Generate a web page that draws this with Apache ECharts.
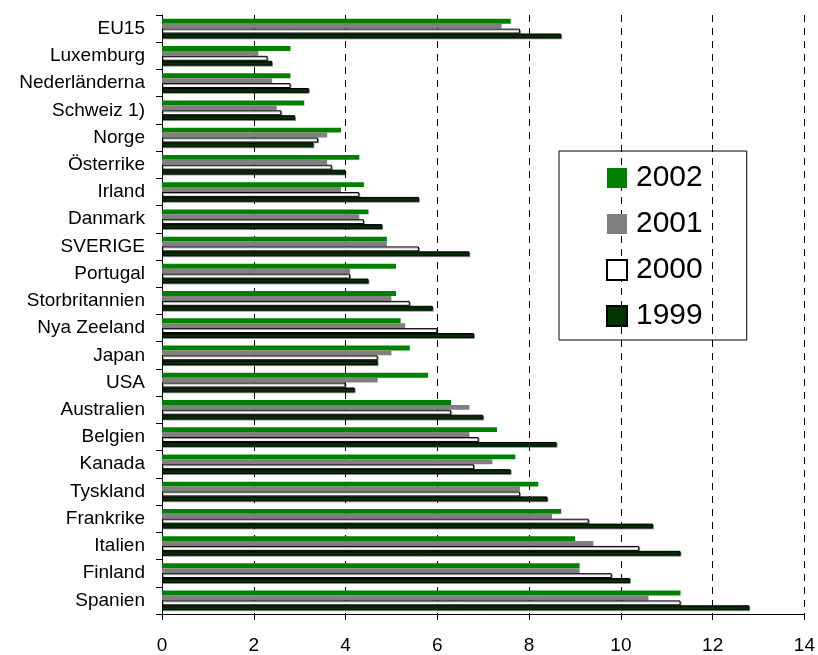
<!DOCTYPE html>
<html>
<head>
<meta charset="utf-8">
<script src="https://cdn.jsdelivr.net/npm/echarts@6/dist/echarts.min.js"></script>
<style>html,body{margin:0;padding:0;background:#fff;}#c{width:818px;height:655px;}</style>
</head>
<body>
<div id="c"></div>
<script>
const categories = ['EU15','Luxemburg','Nederländerna','Schweiz 1)','Norge','Österrike','Irland','Danmark','SVERIGE','Portugal','Storbritannien','Nya Zeeland','Japan','USA','Australien','Belgien','Kanada','Tyskland','Frankrike','Italien','Finland','Spanien'];
const v2002 = [7.6,2.8,2.8,3.1,3.9,4.3,4.4,4.5,4.9,5.1,5.1,5.2,5.4,5.8,6.3,7.3,7.7,8.2,8.7,9.0,9.1,11.3];
const v2001 = [7.4,2.1,2.4,2.5,3.6,3.6,3.9,4.3,4.9,4.1,5.0,5.3,5.0,4.7,6.7,6.7,7.2,7.8,8.5,9.4,9.1,10.6];
const v2000 = [7.8,2.3,2.8,2.6,3.4,3.7,4.3,4.4,5.6,4.1,5.4,6.0,4.7,4.0,6.3,6.9,6.8,7.8,9.3,10.4,9.8,11.3];
const v1999 = [8.7,2.4,3.2,2.9,3.3,4.0,5.6,4.8,6.7,4.5,5.9,6.8,4.7,4.2,7.0,8.6,7.6,8.4,10.7,11.3,10.2,12.8];
const xTicks = [0,2,4,6,8,10,12,14];

const font = 'Liberation Sans, Arial, sans-serif';
const chart = echarts.init(document.getElementById('c'));
function ser(name, data, color, border){
  return {
    name, type:'bar', data,
    barGap:'0%', barCategoryGap:'28%',
    itemStyle:{color, borderColor: border ? '#000' : color, borderWidth: border ? 1 : 0,
      shadowColor: border ? 'rgba(0,0,0,0.35)' : 'transparent', shadowOffsetX: border?1:0, shadowOffsetY: border?1:0},
    emphasis:{disabled:true}, animation:false
  };
}
chart.setOption({
  animation:false,
  grid:{left:162, right:12, top:15, bottom:40},
  legend:{
    orient:'vertical', left:559, top:151,
    data:['2002','2001','2000','1999'],
    itemWidth:20, itemHeight:20, itemGap:16,
    icon:'rect',
    padding:[12,44,9,47],
    borderColor:'#000', borderWidth:1,
    textStyle:{fontFamily:font, fontSize:30, color:'#000', lineHeight:30, padding:[0,0,0,4]}
  },
  xAxis:{
    type:'value', min:0, max:14, interval:2,
    axisLine:{show:true, lineStyle:{color:'#000'}},
    axisTick:{show:true, length:6, lineStyle:{color:'#000'}},
    axisLabel:{fontFamily:font, fontSize:19, color:'#000', margin:22,
      formatter:v=>xTicks.includes(v)?String(v):''},
    splitLine:{show:true, lineStyle:{color:'#000', type:[7,6], width:1}}
  },
  yAxis:{
    type:'category', data:categories, inverse:true,
    axisLine:{show:true, lineStyle:{color:'#000'}},
    axisTick:{show:true, length:6, lineStyle:{color:'#000'}},
    axisLabel:{fontFamily:font, fontSize:19, color:'#000', margin:17}
  },
  series:[
    ser('2002', v2002, '#008000', false),
    ser('2001', v2001, '#808080', false),
    ser('2000', v2000, '#ffffff', true),
    ser('1999', v1999, '#003300', true)
  ]
});
</script>
</body>
</html>
